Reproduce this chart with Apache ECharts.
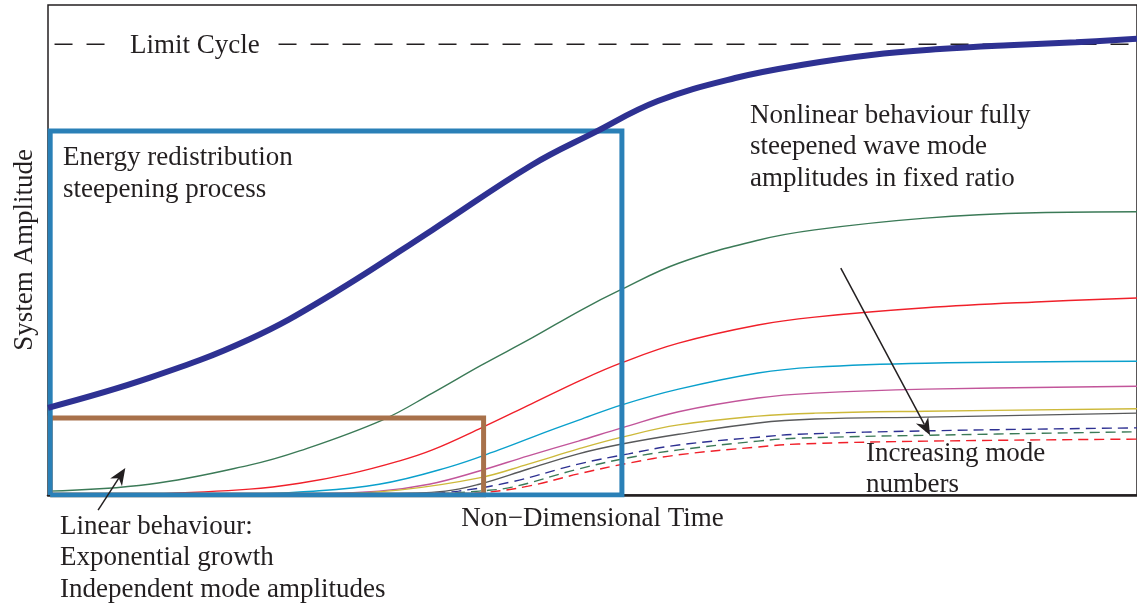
<!DOCTYPE html>
<html>
<head>
<meta charset="UTF-8">
<title>System Amplitude</title>
<script src="https://cdn.jsdelivr.net/npm/echarts@6/dist/echarts.min.js"></script>
<style>
html,body{margin:0;padding:0;background:#fff;}
#chart{width:1137px;height:605px;}
</style>
</head>
<body>
<div id="chart"></div>
<script>
// values, x: 0..100 time, y: 0..100 amplitude
var limitLevel = 92.0;
var systemAmp = [[0,17.8],[9.3,23.9],[18.5,31.8],[26.1,41.0],[35.3,54.1],[44.4,67.3],[50.1,73.9],
  [56.0,80.4],[63.1,85.1],[69.3,87.8],[75.6,89.8],[81.9,91.0],[88.2,91.8],[94.4,92.4],[100,93.1]];
var mode1 = [[0,0.8],[9.3,2.2],[18.5,6.1],[23.1,9.0],[30.7,15.3],[35.3,20.8],[39.8,26.5],[44.4,32.0],
  [49.0,37.8],[52.7,42.0],[57.9,47.3],[65.2,52.0],[70.4,54.1],[80.6,56.5],[90.7,57.6],[100,57.8]];
var mode2 = [[9.3,0.2],[18.5,1.2],[23.1,2.4],[27.7,4.3],[32.2,6.9],[35.3,9.2],[39.8,13.7],[44.4,18.6],
  [49.0,23.5],[52.7,27.0],[57.9,31.0],[65.2,34.7],[70.4,36.3],[80.6,38.2],[90.7,39.4],[100,40.2]];
var mode3 = [[18.5,0.2],[23.1,0.6],[30.4,2.2],[36.8,5.7],[41.4,9.2],[46.0,13.1],[49.0,15.5],[52.7,18.4],
  [57.9,21.6],[65.2,24.9],[70.4,26.1],[80.6,26.9],[100,27.3]];
var mode4 = [[23.1,0.2],[30.4,0.8],[35.0,2.2],[39.6,4.9],[44.1,8.0],[48.7,11.0],[52.7,13.7],[57.9,17.0],
  [65.2,19.8],[70.4,20.8],[80.6,21.6],[100,22.2]];
var mode5 = [[25.8,0.2],[32.2,1.0],[39.6,3.5],[44.1,6.3],[48.7,9.4],[52.7,11.8],[57.9,14.3],[65.2,16.1],
  [70.4,16.7],[80.6,17.1],[100,17.6]];
var mode6 = [[30.4,0.2],[36.5,0.8],[39.6,2.2],[44.1,5.3],[48.7,8.4],[52.7,10.4],[57.9,12.4],[65.2,14.7],
  [70.4,15.5],[80.6,15.9],[100,16.7]];
var mode7 = [[34.1,0.2],[37.7,0.8],[42.6,2.7],[48.7,6.3],[53.3,8.4],[57.9,10.2],[65.2,11.8],[68.9,12.4],
  [81.0,13.1],[100,13.7]];
var mode8 = [[35.9,0.2],[39.6,0.8],[42.6,1.6],[48.7,5.3],[53.3,7.6],[57.9,9.2],[65.2,11.0],[68.9,11.6],
  [81.0,12.2],[100,12.9]];
var mode9 = [[37.7,0.2],[40.5,0.6],[44.1,1.8],[48.7,4.3],[53.3,6.5],[57.9,8.2],[65.2,9.8],[68.9,10.4],
  [81.0,11.0],[100,11.4]];

// regions: [x0, x1, y0, y1]
var linearBox = [0.2, 40.0, 0, 15.7];
var nonlinearBox = [0.2, 52.7, 0, 74.3];
// arrows: [from, to]
var arrowLinear = [[4.6,-3.1],[7.1,5.5]];
var arrowModes = [[72.8,46.3],[81.0,12.2]];

var ink = '#231f20';
var serif = 'Liberation Serif';

function boxPath(b){
  return [[b[0],b[2]],[b[0],b[3]],[b[1],b[3]],[b[1],b[2]],[b[0],b[2]]];
}
function thin(data, color, dashed){
  return {
    type:'line', data:data, showSymbol:false, smooth:0.4, z:2,
    lineStyle:{color:color, width:1.4, type: dashed ? [10,6] : 'solid'}
  };
}

var mychart = echarts.init(document.getElementById('chart'));

var option = {
  animation:false,
  grid:{left:48, top:5, right:-3, bottom:110, show:true, borderColor:ink, borderWidth:1.5},
  xAxis:{
    type:'value', min:0, max:100,
    axisLine:{show:true, lineStyle:{color:ink, width:2.5}},
    axisTick:{show:false}, axisLabel:{show:false}, splitLine:{show:false},
    name:'Non\u2212Dimensional Time', nameLocation:'middle', nameGap:10,
    nameTextStyle:{fontFamily:serif, fontSize:27, color:ink}
  },
  yAxis:{
    type:'value', min:0, max:100,
    axisLine:{show:false}, axisTick:{show:false}, axisLabel:{show:false}, splitLine:{show:false},
    name:'System Amplitude', nameLocation:'middle', nameGap:10,
    nameTextStyle:{fontFamily:serif, fontSize:27, color:ink}
  },
  series:[
    {type:'line', data:[[0.6,limitLevel],[100,limitLevel]], showSymbol:false, z:1,
     lineStyle:{color:ink, width:1.5, type:[18,14]}},
    thin(mode1,'#3b7a57'),
    thin(mode2,'#f0202a'),
    thin(mode3,'#0aa0cc'),
    thin(mode4,'#c2559a'),
    thin(mode5,'#cdb93a'),
    thin(mode6,'#58595b'),
    thin(mode7,'#2e3192',true),
    thin(mode8,'#3b7a57',true),
    thin(mode9,'#f0202a',true),
    {type:'line', data:boxPath(linearBox), showSymbol:false, z:3,
     lineStyle:{color:'#a8714a', width:5, join:'miter'}},
    {type:'line', data:boxPath(nonlinearBox), showSymbol:false, z:4,
     lineStyle:{color:'#2a80b7', width:5, join:'miter'}},
    {type:'line', data:systemAmp, showSymbol:false, smooth:0.4, z:5,
     lineStyle:{color:'#2e3192', width:6}}
  ],
  graphic:[
    {type:'text', left:118, top:32, z:10, style:{text:'Limit Cycle', font:'27px '+serif, fill:ink,
      backgroundColor:'#fff', padding:[0,12]}},
    {type:'text', left:63, top:142, z:10, style:{text:'Energy redistribution\nsteepening process',
      font:'27px '+serif, fill:ink, lineHeight:32}},
    {type:'text', left:750, top:100, z:10, style:{text:'Nonlinear behaviour fully\nsteepened wave mode\namplitudes in fixed ratio',
      font:'27px '+serif, fill:ink, lineHeight:31.5}},
    {type:'text', left:866, top:438, z:10, style:{text:'Increasing mode\nnumbers',
      font:'27px '+serif, fill:ink, lineHeight:31.5}},
    {type:'text', left:60, top:511, z:10, style:{text:'Linear behaviour:\nExponential growth\nIndependent mode amplitudes',
      font:'27px '+serif, fill:ink, lineHeight:31.5}}
  ]
};

mychart.setOption(option);

// arrows placed through the grid's own scale
function arrow(pair){
  var a = mychart.convertToPixel({gridIndex:0}, pair[0]);
  var b = mychart.convertToPixel({gridIndex:0}, pair[1]);
  var dx = b[0]-a[0], dy = b[1]-a[1], len = Math.sqrt(dx*dx+dy*dy);
  var ux = dx/len, uy = dy/len, nx = -uy, ny = ux;
  var L = 17, W = 7, N = 12;
  var back = [b[0]-ux*L, b[1]-uy*L];
  var notch = [b[0]-ux*N, b[1]-uy*N];
  return [
    {type:'line', z:9, shape:{x1:a[0], y1:a[1], x2:notch[0], y2:notch[1]},
     style:{stroke:ink, lineWidth:1.5}},
    {type:'polygon', z:9, shape:{points:[b,[back[0]+nx*W, back[1]+ny*W], notch, [back[0]-nx*W, back[1]-ny*W]]},
     style:{fill:ink}}
  ];
}
var extra = option.graphic.concat(arrow(arrowLinear), arrow(arrowModes));
mychart.setOption({graphic: extra});
</script>
</body>
</html>
